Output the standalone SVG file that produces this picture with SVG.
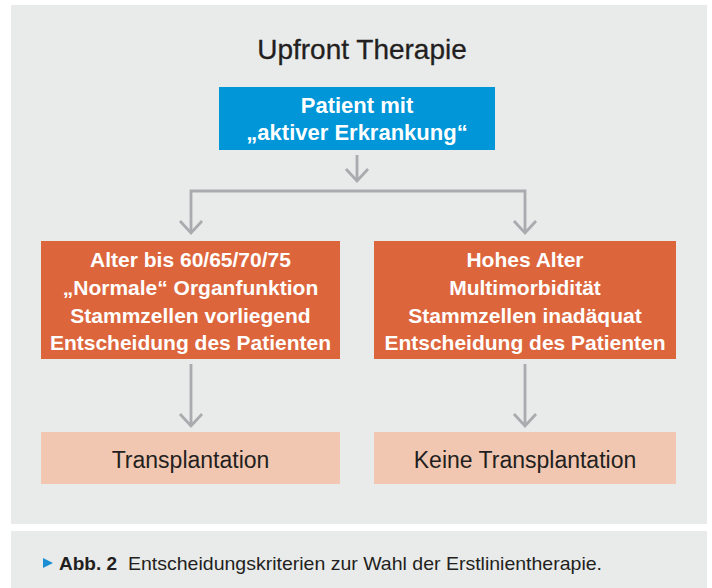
<svg xmlns="http://www.w3.org/2000/svg" width="712" height="588" viewBox="0 0 712 588">
  <style>
    .panel { fill: #e9eaea; }
    .blue { fill: #0096d8; }
    .orange { fill: #dd653c; }
    .salmon { fill: #f2c7b1; }
    .conn { fill: none; stroke: #a9abae; stroke-width: 2.8; }
    .title { font-family: "Liberation Sans", Arial, sans-serif; font-size: 28px; fill: #231f20; text-anchor: middle; stroke: #231f20; stroke-width: 0.3; }
    .bt { font-family: "Liberation Sans", Arial, sans-serif; font-size: 22px; font-weight: bold; fill: #ffffff; text-anchor: middle; }
    .ot { font-family: "Liberation Sans", Arial, sans-serif; font-size: 21px; font-weight: bold; fill: #ffffff; text-anchor: middle; }
    .st { font-family: "Liberation Sans", Arial, sans-serif; font-size: 23px; fill: #231f20; text-anchor: middle; }
    .cap { font-family: "Liberation Sans", Arial, sans-serif; font-size: 19px; fill: #231f20; }
  </style>
  <rect width="712" height="588" fill="#ffffff"/>
  <rect class="panel" x="11" y="5" width="696" height="519"/>
  <rect class="panel" x="11" y="531" width="696" height="57"/>

  <text class="title" x="362" y="59">Upfront Therapie</text>

  <g id="connectors">
    <path class="conn" d="M357 155 V181 M346 169 L357 181 L368 169"/>
    <path class="conn" d="M191 233 V191 H525 V233"/>
    <path class="conn" d="M180 221 L191 233 L202 221"/>
    <path class="conn" d="M514 221 L525 233 L536 221"/>
    <path class="conn" d="M191 364 V426 M180 414 L191 426 L202 414"/>
    <path class="conn" d="M525 364 V426 M514 414 L525 426 L536 414"/>
  </g>

  <g id="patient">
    <rect class="blue" x="219" y="87" width="276" height="63"/>
    <text class="bt" x="357" y="113">Patient mit</text>
    <text class="bt" x="357" y="140">„aktiver Erkrankung“</text>
  </g>

  <g id="criteria-left">
    <rect class="orange" x="41" y="241" width="299" height="118"/>
    <text class="ot" x="190.5" y="267">Alter bis 60/65/70/75</text>
    <text class="ot" x="190.5" y="295">„Normale“ Organfunktion</text>
    <text class="ot" x="190.5" y="322.5">Stammzellen vorliegend</text>
    <text class="ot" x="190.5" y="350">Entscheidung des Patienten</text>
  </g>

  <g id="criteria-right">
    <rect class="orange" x="374" y="241" width="302" height="118"/>
    <text class="ot" x="525" y="267">Hohes Alter</text>
    <text class="ot" x="525" y="295">Multimorbidität</text>
    <text class="ot" x="525" y="322.5">Stammzellen inadäquat</text>
    <text class="ot" x="525" y="350">Entscheidung des Patienten</text>
  </g>

  <g id="transplant">
    <rect class="salmon" x="41" y="432" width="299" height="52"/>
    <text class="st" x="190.5" y="468">Transplantation</text>
  </g>

  <g id="no-transplant">
    <rect class="salmon" x="374" y="432" width="302" height="52"/>
    <text class="st" x="525" y="468">Keine Transplantation</text>
  </g>

  <g id="caption">
    <path d="M43 558 L53 563 L43 568 Z" fill="#1a8fd3"/>
    <text class="cap" x="59" y="570" font-weight="bold">Abb. 2</text>
    <text class="cap" x="128" y="570" textLength="474" lengthAdjust="spacingAndGlyphs">Entscheidungskriterien zur Wahl der Erstlinientherapie.</text>
  </g>
</svg>
